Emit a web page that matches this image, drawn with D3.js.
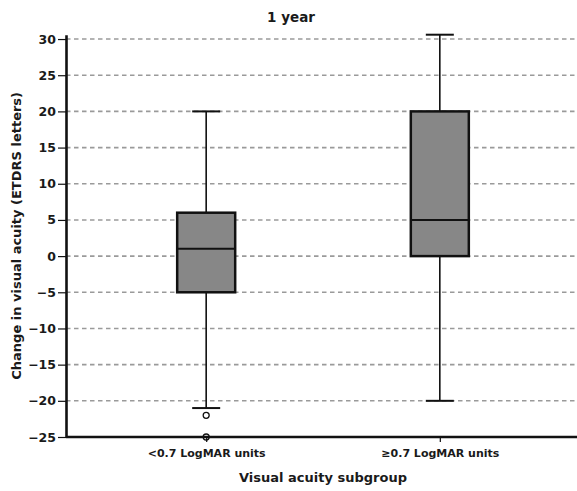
<!DOCTYPE html>
<html>
<head>
<meta charset="utf-8">
<script src="https://cdn.jsdelivr.net/npm/d3@7"></script>
<style>
  html, body { margin: 0; padding: 0; background: #fff; }
  svg { display: block; }
  text { font-family: "DejaVu Sans", sans-serif; font-weight: bold; fill: #1a1a1a; }
</style>
</head>
<body>
<svg id="chart" width="577" height="491"></svg>
<script>
// Change in visual acuity after 1 year, by baseline visual acuity subgroup
const categories = ["<0.7 LogMAR units", "\u22650.7 LogMAR units"];
const whiskerLow  = [-21, -20];
const q1          = [-5, 0];
const median      = [1, 5];
const q3          = [6, 20];
const whiskerHigh = [20, 30.6];
const outliers    = [[-22, -25], []];
const yTicks = [30, 25, 20, 15, 10, 5, 0, -5, -10, -15, -20, -25];

const titleText = "1 year";
const xTitle = "Visual acuity subgroup";
const yTitle = "Change in visual acuity (ETDRS letters)";

const svg = d3.select("#chart");
const plot = { left: 66, right: 577, top: 34.7, bottom: 437 };

const boxes = categories.map((c, i) => ({
  cat: c, lo: whiskerLow[i], q1: q1[i], med: median[i], q3: q3[i], hi: whiskerHigh[i], out: outliers[i]
}));

const x = d3.scalePoint().domain(categories).range([plot.left, 580]).padding(0.6);
const y = d3.scaleLinear().domain([-25, d3.max(whiskerHigh)]).range([plot.bottom, plot.top]);

// dashed gridlines
svg.append("g").selectAll("line")
  .data(yTicks.filter(t => t !== -25))
  .join("line")
  .attr("x1", plot.left).attr("x2", plot.right)
  .attr("y1", d => y(d)).attr("y2", d => y(d))
  .attr("stroke", "#9a9a9a").attr("stroke-width", 1.6)
  .attr("stroke-dasharray", "4.5,3.5");

const boxW = 58, capW = 28;
const g = svg.append("g").selectAll("g").data(boxes).join("g")
  .attr("transform", d => `translate(${x(d.cat)},0)`);

// whiskers
g.append("line").attr("x1", 0).attr("x2", 0)
  .attr("y1", d => y(d.hi)).attr("y2", d => y(d.q3))
  .attr("stroke", "#111").attr("stroke-width", 1.6);
g.append("line").attr("x1", 0).attr("x2", 0)
  .attr("y1", d => y(d.q1)).attr("y2", d => y(d.lo))
  .attr("stroke", "#111").attr("stroke-width", 1.6);
g.append("line").attr("x1", -capW / 2).attr("x2", capW / 2)
  .attr("y1", d => y(d.hi)).attr("y2", d => y(d.hi))
  .attr("stroke", "#111").attr("stroke-width", 2);
g.append("line").attr("x1", -capW / 2).attr("x2", capW / 2)
  .attr("y1", d => y(d.lo)).attr("y2", d => y(d.lo))
  .attr("stroke", "#111").attr("stroke-width", 2);

// interquartile box and median
g.append("rect")
  .attr("x", -boxW / 2).attr("width", boxW)
  .attr("y", d => y(d.q3)).attr("height", d => y(d.q1) - y(d.q3))
  .attr("fill", "#878787").attr("stroke", "#111").attr("stroke-width", 2.5);
g.append("line").attr("x1", -boxW / 2).attr("x2", boxW / 2)
  .attr("y1", d => y(d.med)).attr("y2", d => y(d.med))
  .attr("stroke", "#111").attr("stroke-width", 2);

// outliers
g.selectAll("circle").data(d => d.out).join("circle")
  .attr("cx", 0).attr("cy", v => y(v)).attr("r", 3)
  .attr("fill", "#fff").attr("stroke", "#111").attr("stroke-width", 1.3);

// y axis
const yAxis = svg.append("g").attr("transform", `translate(${plot.left},0)`)
  .call(d3.axisLeft(y).tickValues(yTicks).tickSize(8).tickPadding(2).tickSizeOuter(0));
yAxis.select(".domain").attr("stroke", "#111").attr("stroke-width", 2.6);
yAxis.selectAll(".tick line").attr("stroke", "#111").attr("stroke-width", 1.2);
yAxis.selectAll(".tick text").attr("font-size", 12.5).attr("font-family", null);

// x axis
svg.append("line").attr("x1", plot.left).attr("x2", plot.right)
  .attr("y1", plot.bottom).attr("y2", plot.bottom)
  .attr("stroke", "#111").attr("stroke-width", 2.4);
const xAxis = svg.append("g").attr("transform", `translate(0,${plot.bottom})`)
  .call(d3.axisBottom(x).tickSize(5).tickPadding(7).tickSizeOuter(0));
xAxis.select(".domain").remove();
xAxis.selectAll(".tick line").attr("stroke", "#111").attr("stroke-width", 1.2);
xAxis.selectAll(".tick text").attr("font-size", 11).attr("font-family", null);

// titles
svg.append("text").attr("x", 291).attr("y", 22).attr("text-anchor", "middle")
  .attr("font-size", 13.5).text(titleText);
svg.append("text").attr("x", 323).attr("y", 482).attr("text-anchor", "middle")
  .attr("font-size", 13).text(xTitle);
svg.append("text").attr("transform", `translate(21,${(plot.top + plot.bottom) / 2}) rotate(-90)`)
  .attr("text-anchor", "middle").attr("font-size", 13).text(yTitle);
</script>
</body>
</html>
